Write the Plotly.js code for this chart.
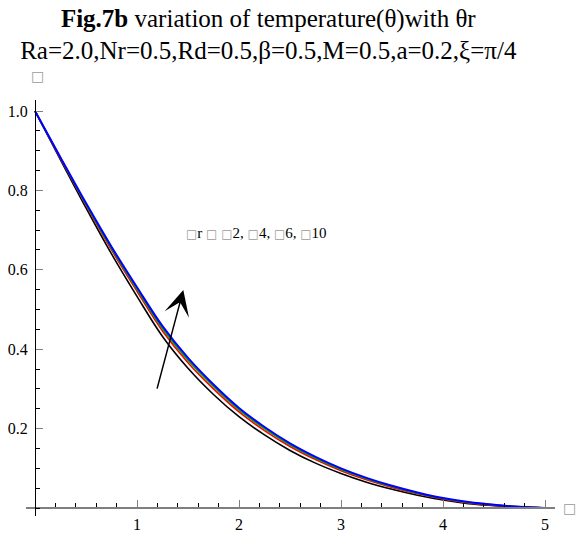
<!DOCTYPE html>
<html>
<head>
<meta charset="utf-8">
<script src="https://cdn.plot.ly/plotly-3.0.1.min.js"></script>
<style>html,body{margin:0;padding:0;background:#fff;}#chart{width:577px;height:533px;}</style>
</head>
<body>
<div id="chart"></div>
<script>
// eta values (x axis)
const eta = [0,0.25,0.5,0.75,1.0,1.25,1.5,1.75,2.0,2.25,2.5,2.75,3.0,3.25,3.5,3.75,4.0,4.25,4.5,4.75,5.0];
// temperature profiles theta(eta) for theta_r = 2, 4, 6, 10
const thetaR2  = [1,0.877,0.756,0.640,0.533,0.432,0.352,0.286,0.230,0.184,0.145,0.113,0.087,0.065,0.047,0.032,0.020,0.011,0.006,0.002,0];
const thetaR4  = [1,0.880,0.763,0.650,0.546,0.446,0.366,0.300,0.242,0.195,0.155,0.122,0.094,0.071,0.052,0.036,0.023,0.013,0.007,0.003,0];
const thetaR6  = [1,0.882,0.765,0.654,0.551,0.452,0.372,0.306,0.247,0.200,0.159,0.125,0.097,0.074,0.054,0.037,0.024,0.014,0.008,0.003,0];
const thetaR10 = [1,0.883,0.768,0.658,0.556,0.458,0.378,0.311,0.252,0.204,0.163,0.129,0.100,0.076,0.056,0.039,0.025,0.015,0.008,0.003,0];
const seriesNames = ['θr=2','θr=4','θr=6','θr=10'];
const xTicks = [1,2,3,4,5];
const xTickText = ['1','2','3','4','5'];
const yTicks = [0.2,0.4,0.6,0.8,1.0];
const yTickText = ['0.2','0.4','0.6','0.8','1.0'];

const colors = ['#000000','#ff0000','#00a000','#0000ff'];
const widths = [1.6,1.6,1.6,2.0];
const ys = [thetaR2, thetaR4, thetaR6, thetaR10];

const traces = ys.map((y,i)=>({
  x: eta, y: y, type:'scatter', mode:'lines', name: seriesNames[i],
  line:{color:colors[i], width:widths[i], shape:'spline', smoothing:1.0},
  hoverinfo:'skip', showlegend:false
}));

const serif = '"Liberation Serif", "Times New Roman", serif';
const gray = '#7f7f7f';
const box = '<span style="color:#9a9a9a;font-family:DejaVu Sans">□</span>';
const sbox = '<span style="color:#9a9a9a;font-family:DejaVu Sans;font-size:12px">□</span>';

const layout = {
  width:577, height:533,
  margin:{l:26, r:22, t:100, b:17},
  paper_bgcolor:'#fff', plot_bgcolor:'#fff',
  font:{family:serif, color:'#000', size:16},
  title:{
    text:'<b>Fig.7b</b> variation of temperature(θ)with θr<br>Ra=2.0,Nr=0.5,Rd=0.5,β=0.5,M=0.5,a=0.2,ξ=π/4',
    font:{family:serif, size:25, color:'#000'},
    x:0.465, xanchor:'center', xref:'container',
    y:0.950, yanchor:'bottom', yref:'container'
  },
  xaxis:{
    range:[-0.0882, 5.098], anchor:'free', position:0.01923,
    showgrid:false, zeroline:false,
    showline:true, linecolor:gray, linewidth:2,
    tickmode:'array', tickvals:xTicks, ticktext:xTickText,
    ticks:'inside', ticklen:7, tickwidth:1, tickcolor:gray,
    ticklabelstandoff:2,
    minor:{tickmode:'linear', tick0:0, dtick:0.2, ticks:'inside', ticklen:4, tickwidth:1, tickcolor:'#000'},
    tickfont:{family:serif, size:16, color:'#000'},
    fixedrange:true
  },
  yaxis:{
    range:[-0.02015, 1.0277], anchor:'free', position:0.0170,
    showgrid:false, zeroline:false,
    showline:true, linecolor:'#000', linewidth:1.3,
    tickmode:'array', tickvals:yTicks, ticktext:yTickText,
    ticks:'inside', ticklen:7, tickwidth:1, tickcolor:gray,
    ticklabelstandoff:4,
    minor:{tickmode:'linear', tick0:0, dtick:0.05, ticks:'inside', ticklen:4, tickwidth:1, tickcolor:'#000'},
    tickfont:{family:serif, size:16, color:'#000'},
    fixedrange:true
  },
  annotations:[
    {xref:'paper', yref:'paper', x:0.0208, y:1.058, text:box, showarrow:false, font:{size:14}, xanchor:'center', yanchor:'middle'},
    {xref:'paper', yref:'paper', x:1.027, y:0.019, text:box, showarrow:false, font:{size:14}, xanchor:'center', yanchor:'middle'},
    {xref:'x', yref:'y', x:2.17, y:0.693, showarrow:false, xanchor:'center', yanchor:'middle',
     text: sbox+'r '+sbox+' '+sbox+'2, '+sbox+'4, '+sbox+'6, '+sbox+'10', font:{family:serif, size:15, color:'#000'}},
    {xref:'x', yref:'y', x:1.454, y:0.549, ax:1.193, ay:0.297, axref:'x', ayref:'y',
     text:'', showarrow:true, arrowhead:3, arrowsize:2.8, arrowwidth:1.5, arrowcolor:'#000', standoff:0}
  ]
};

Plotly.newPlot('chart', traces, layout, {staticPlot:true, displayModeBar:false});
</script>
</body>
</html>
